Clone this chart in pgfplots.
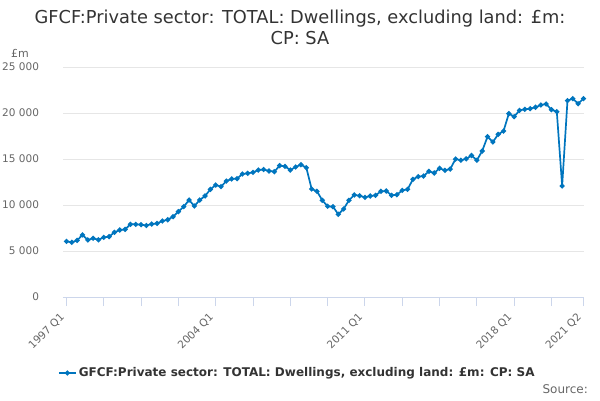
\documentclass[border=0pt]{standalone}
\usepackage{pgfplots}
\pgfplotsset{compat=1.18}
\usepackage{fontspec}
\setmainfont{DejaVu Sans}
\definecolor{txt}{HTML}{333333}
\definecolor{lbl}{HTML}{666666}
\definecolor{gridc}{HTML}{E6E6E6}
\definecolor{axl}{HTML}{CCD6EB}
\definecolor{ser}{RGB}{0,117,190}
\pgfplotstableread{
i v
0 6050
1 5950
2 6150
3 6750
4 6200
5 6380
6 6220
7 6480
8 6560
9 7030
10 7280
11 7350
12 7900
13 7900
14 7860
15 7770
16 7930
17 8000
18 8260
19 8400
20 8730
21 9280
22 9820
23 10540
24 9890
25 10540
26 10980
27 11700
28 12170
29 12000
30 12600
31 12830
32 12860
33 13370
34 13440
35 13550
36 13800
37 13860
38 13700
39 13620
40 14280
41 14200
42 13800
43 14130
44 14380
45 14060
46 11740
47 11490
48 10510
49 9860
50 9820
51 8990
52 9570
53 10510
54 11090
55 11010
56 10830
57 10980
58 11050
59 11490
60 11520
61 11050
62 11120
63 11590
64 11700
65 12790
66 13080
67 13150
68 13660
69 13480
70 13990
71 13770
72 13910
73 15000
74 14860
75 15020
76 15380
77 14860
78 15870
79 17430
80 16850
81 17680
82 18040
83 19930
84 19600
85 20290
86 20400
87 20470
88 20620
89 20870
90 20980
91 20360
92 20140
93 12070
94 21340
95 21560
96 21010
97 21560
}\datatable
\begin{document}
\begin{tikzpicture}
\begin{axis}[
  name=ax,
  scale only axis, width=521pt, height=230pt,
  xmin=-0.65, xmax=97.1, ymin=0, ymax=25000,
  axis x line*=bottom, axis y line*=left,
  x axis line style={-, draw=axl, line width=1pt},
  y axis line style={draw=none},
  ymajorgrids, grid style={gridc, line width=0.8pt},
  scaled y ticks=false,
  ytick={0,5000,10000,15000,20000,25000},
  yticklabels={0,5 000,10 000,15 000,20 000,25 000},
  ytick style={draw=none},
  yticklabel style={font=\fontsize{10.5}{12}\selectfont, text=lbl, xshift=-11.5pt},
  xtick={0,28,56,84,97},
  xticklabels={1997 Q1,2004 Q1,2011 Q1,2018 Q1,2021 Q2},
  minor xtick={7,14,21,35,42,49,63,70,77,91},
  xtick style={draw=axl, line width=1pt},
  minor x tick style={draw=axl, line width=1pt},
  x tick label style={font=\fontsize{10.5}{12}\selectfont, text=lbl, yshift=-7pt, xshift=-1.5pt, rotate=45, anchor=east},
  tick align=outside, major tick length=9pt, minor tick length=9pt,
  legend style={at={(axis description cs:-0.01,-0.3304)}, anchor=west, draw=none, fill=none, inner sep=0pt, font=\bfseries\fontsize{12}{14}\selectfont, text=txt},
  clip=false,
]
\addplot[ser, line width=1.7pt, mark=*, mark size=1.6pt, mark options={ser}] table[x=i,y=v]{\datatable};
\addlegendentry{GFCF:Private sector: TOTAL: Dwellings, excluding land: £m: CP: SA}
\end{axis}
\begin{scope}[shift={(ax.south west)}, x=1pt, y=1pt]
\node[anchor=base,text=txt,font=\fontsize{17.8}{21}\selectfont,inner sep=0pt] at (237,273.5) {GFCF:Private sector: TOTAL: Dwellings, excluding land: £m:};
\node[anchor=base,text=txt,font=\fontsize{17.8}{21}\selectfont,inner sep=0pt] at (237,252.5) {CP: SA};
\node[anchor=base west,text=lbl,font=\fontsize{11}{13}\selectfont,inner sep=0pt] at (-52,240) {£m};
\node[anchor=base east,text=lbl,font=\fontsize{12}{14}\selectfont,inner sep=0pt] at (525,-96) {Source:};
\pgfresetboundingbox
\path[use as bounding box] (-63,-103) rectangle (537,297);
\end{scope}
\end{tikzpicture}
\end{document}
